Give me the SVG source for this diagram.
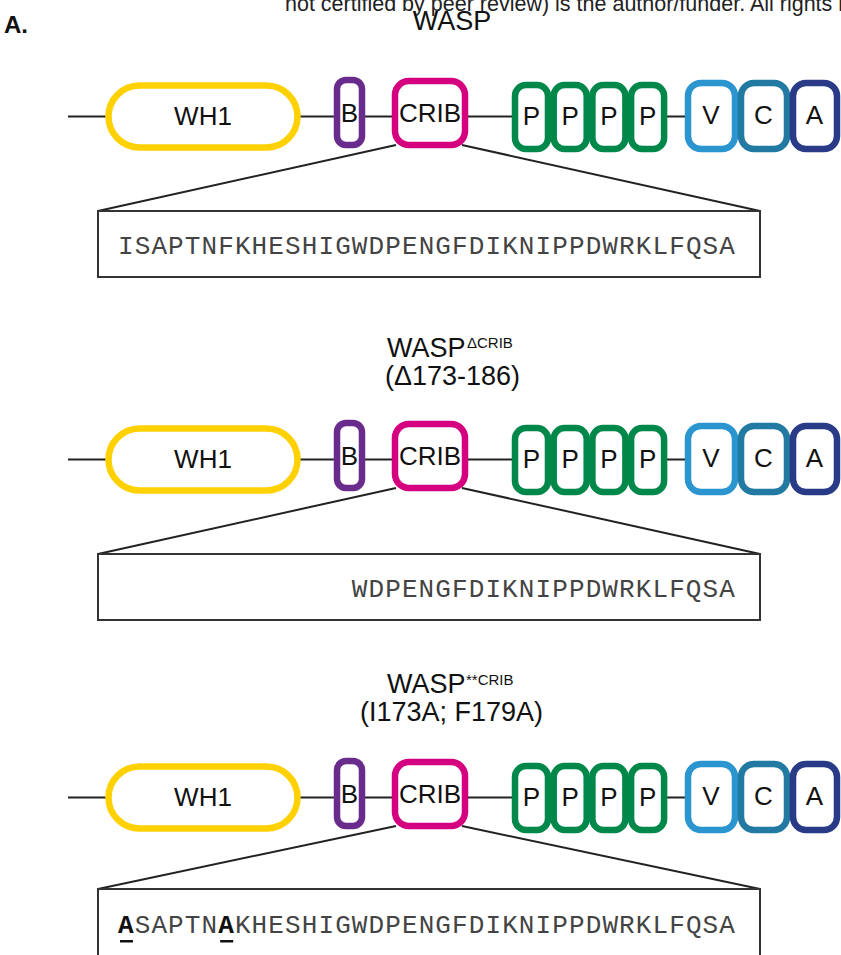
<svg xmlns="http://www.w3.org/2000/svg" width="841" height="955" viewBox="0 0 841 955">
<style>
  .lbl{font-family:"Liberation Sans",Arial,sans-serif;font-size:26px;fill:#111;text-anchor:middle}
  .ttl{font-family:"Liberation Sans",Arial,sans-serif;font-size:27px;fill:#111}
  .sup{font-family:"Liberation Sans",Arial,sans-serif;font-size:15px;fill:#111}
  .seq{font-family:"Liberation Mono","Courier New",monospace;font-size:26px;fill:#444;letter-spacing:1.1px}
  .mut{font-weight:bold;fill:#111}
  .dom{fill:#fff;stroke-width:6.5}
  .wh1{stroke:#FFD100}
  .b{stroke:#6A2C8C}
  .crib{stroke:#D5007F}
  .p{stroke:#00884A}
  .v{stroke:#2B95D0}
  .c{stroke:#2279A2}
  .a{stroke:#293A86}
  .ln{stroke:#222;stroke-width:2;fill:none}
  .box{fill:#fff;stroke:#333;stroke-width:2}
</style>
<text x="285" y="11" style="font-family:'Liberation Sans',Arial,sans-serif;font-size:21.5px;fill:#222">not certified by peer review) is the author/funder. All rights r</text>
<text x="4" y="33" style="font-family:'Liberation Sans',Arial,sans-serif;font-size:24px;font-weight:bold;fill:#111">A.</text>

<!-- titles -->
<text class="ttl" x="452" y="30" text-anchor="middle">WASP</text>
<text class="ttl" x="387" y="357">WASP</text>
<text class="sup" x="467" y="348">ΔCRIB</text>
<text class="ttl" x="452.5" y="385" text-anchor="middle">(Δ173-186)</text>
<text class="ttl" x="387" y="693">WASP</text>
<text class="sup" x="466" y="685">**CRIB</text>
<text class="ttl" x="451.5" y="721" text-anchor="middle">(I173A; F179A)</text>

<!-- Row 1 -->
<g id="row1">
  <g id="connectors1">
    <line class="ln" x1="68" y1="116.5" x2="690" y2="116.5"/>
    <line class="ln" x1="396" y1="145" x2="98" y2="211"/>
    <line class="ln" x1="462" y1="145" x2="760" y2="211"/>
  </g>
  <g id="wh1-1"><rect class="dom wh1" x="108.5" y="85.5" width="189" height="62" rx="31"/><text class="lbl" x="203" y="125">WH1</text></g>
  <g id="b-1"><rect class="dom b" x="337" y="80" width="25" height="65" rx="9"/><text class="lbl" x="349.5" y="122">B</text></g>
  <g id="crib-1"><rect class="dom crib" x="395" y="81" width="70" height="64" rx="14"/><text class="lbl" x="430" y="122">CRIB</text></g>
  <g id="p1-1"><rect class="dom p" x="515" y="85" width="33" height="64" rx="11"/><text class="lbl" x="531.5" y="125">P</text></g>
  <g id="p2-1"><rect class="dom p" x="553.7" y="85" width="33" height="64" rx="11"/><text class="lbl" x="570.2" y="125">P</text></g>
  <g id="p3-1"><rect class="dom p" x="592.4" y="85" width="33" height="64" rx="11"/><text class="lbl" x="608.9" y="125">P</text></g>
  <g id="p4-1"><rect class="dom p" x="631.1" y="85" width="33" height="64" rx="11"/><text class="lbl" x="647.6" y="125">P</text></g>
  <g id="v-1"><rect class="dom v" x="688" y="83" width="47" height="66" rx="13"/><text class="lbl" x="711" y="124">V</text></g>
  <g id="c-1"><rect class="dom c" x="741" y="83" width="46" height="66" rx="13"/><text class="lbl" x="763.5" y="124">C</text></g>
  <g id="a-1"><rect class="dom a" x="793" y="83" width="44" height="66" rx="13"/><text class="lbl" x="814.5" y="124">A</text></g>
  <g id="seq-1"><rect class="box" x="98" y="211" width="662" height="66"/><text class="seq" x="118" y="254">ISAPTNFKHESHIGWDPENGFDIKNIPPDWRKLFQSA</text></g>
</g>

<!-- Row 2 -->
<g id="row2" transform="translate(0,343)">
  <g id="connectors2">
    <line class="ln" x1="68" y1="116.5" x2="690" y2="116.5"/>
    <line class="ln" x1="396" y1="145" x2="98" y2="211"/>
    <line class="ln" x1="462" y1="145" x2="760" y2="211"/>
  </g>
  <g id="wh1-2"><rect class="dom wh1" x="108.5" y="85.5" width="189" height="62" rx="31"/><text class="lbl" x="203" y="125">WH1</text></g>
  <g id="b-2"><rect class="dom b" x="337" y="80" width="25" height="65" rx="9"/><text class="lbl" x="349.5" y="122">B</text></g>
  <g id="crib-2"><rect class="dom crib" x="395" y="81" width="70" height="64" rx="14"/><text class="lbl" x="430" y="122">CRIB</text></g>
  <g id="p1-2"><rect class="dom p" x="515" y="85" width="33" height="64" rx="11"/><text class="lbl" x="531.5" y="125">P</text></g>
  <g id="p2-2"><rect class="dom p" x="553.7" y="85" width="33" height="64" rx="11"/><text class="lbl" x="570.2" y="125">P</text></g>
  <g id="p3-2"><rect class="dom p" x="592.4" y="85" width="33" height="64" rx="11"/><text class="lbl" x="608.9" y="125">P</text></g>
  <g id="p4-2"><rect class="dom p" x="631.1" y="85" width="33" height="64" rx="11"/><text class="lbl" x="647.6" y="125">P</text></g>
  <g id="v-2"><rect class="dom v" x="688" y="83" width="47" height="66" rx="13"/><text class="lbl" x="711" y="124">V</text></g>
  <g id="c-2"><rect class="dom c" x="741" y="83" width="46" height="66" rx="13"/><text class="lbl" x="763.5" y="124">C</text></g>
  <g id="a-2"><rect class="dom a" x="793" y="83" width="44" height="66" rx="13"/><text class="lbl" x="814.5" y="124">A</text></g>
  <g id="seq-2"><rect class="box" x="98" y="211" width="662" height="66"/><text class="seq" x="351.8" y="254">WDPENGFDIKNIPPDWRKLFQSA</text></g>
</g>

<!-- Row 3 -->
<g id="row3" transform="translate(0,681)">
  <g id="connectors3">
    <line class="ln" x1="68" y1="116.5" x2="690" y2="116.5"/>
    <line class="ln" x1="396" y1="145" x2="98" y2="208"/>
    <line class="ln" x1="462" y1="145" x2="760" y2="208"/>
  </g>
  <g id="wh1-3"><rect class="dom wh1" x="108.5" y="85.5" width="189" height="62" rx="31"/><text class="lbl" x="203" y="125">WH1</text></g>
  <g id="b-3"><rect class="dom b" x="337" y="80" width="25" height="65" rx="9"/><text class="lbl" x="349.5" y="122">B</text></g>
  <g id="crib-3"><rect class="dom crib" x="395" y="81" width="70" height="64" rx="14"/><text class="lbl" x="430" y="122">CRIB</text></g>
  <g id="p1-3"><rect class="dom p" x="515" y="85" width="33" height="64" rx="11"/><text class="lbl" x="531.5" y="125">P</text></g>
  <g id="p2-3"><rect class="dom p" x="553.7" y="85" width="33" height="64" rx="11"/><text class="lbl" x="570.2" y="125">P</text></g>
  <g id="p3-3"><rect class="dom p" x="592.4" y="85" width="33" height="64" rx="11"/><text class="lbl" x="608.9" y="125">P</text></g>
  <g id="p4-3"><rect class="dom p" x="631.1" y="85" width="33" height="64" rx="11"/><text class="lbl" x="647.6" y="125">P</text></g>
  <g id="v-3"><rect class="dom v" x="688" y="83" width="47" height="66" rx="13"/><text class="lbl" x="711" y="124">V</text></g>
  <g id="c-3"><rect class="dom c" x="741" y="83" width="46" height="66" rx="13"/><text class="lbl" x="763.5" y="124">C</text></g>
  <g id="a-3"><rect class="dom a" x="793" y="83" width="44" height="66" rx="13"/><text class="lbl" x="814.5" y="124">A</text></g>
  <g id="seq-3"><rect class="box" x="98" y="208" width="662" height="70"/><text class="seq" x="118" y="252"><tspan class="mut">A</tspan>SAPTN<tspan class="mut">A</tspan>KHESHIGWDPENGFDIKNIPPDWRKLFQSA</text>
    <rect x="120" y="259" width="13" height="2.5" fill="#111"/>
    <rect x="220.2" y="259" width="13" height="2.5" fill="#111"/>
  </g>
</g>
</svg>
